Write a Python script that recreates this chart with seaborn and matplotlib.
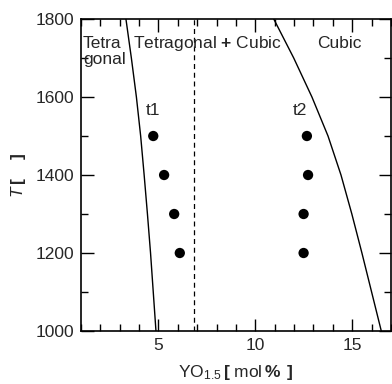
import matplotlib
matplotlib.use("Agg")
import matplotlib.pyplot as plt
import seaborn as sns
import pandas as pd
from matplotlib.ticker import MultipleLocator

sns.set_style("ticks")
plt.rcParams['font.family'] = ['Liberation Sans', 'DejaVu Sans']
plt.rcParams['mathtext.fontset'] = 'custom'
plt.rcParams['mathtext.rm'] = 'Liberation Sans'
plt.rcParams['mathtext.it'] = 'Liberation Sans:italic'
plt.rcParams['mathtext.bf'] = 'Liberation Sans:bold'

# phase boundaries (T vs YO1.5 mol%)
left_T = [1000, 1100, 1200, 1300, 1400, 1500, 1600, 1700, 1800]
left_x = [4.87, 4.73, 4.59, 4.43, 4.26, 4.08, 3.86, 3.60, 3.32]
right_T = [1000, 1100, 1200, 1300, 1400, 1500, 1600, 1700, 1800]
right_x = [16.5, 16.0, 15.5, 14.98, 14.42, 13.75, 12.92, 11.98, 10.95]
dash_x = 6.85

# measured points
t1_x = [4.73, 5.29, 5.81, 6.1]
t1_T = [1500, 1400, 1300, 1200]
t2_x = [12.66, 12.72, 12.49, 12.49]
t2_T = [1500, 1400, 1300, 1200]

pts = pd.DataFrame({'x': t1_x + t2_x, 'T': t1_T + t2_T})

fig = plt.figure(figsize=(3.92, 3.84), dpi=100)
ax = fig.add_axes([0.2066, 0.138, 0.7908, 0.8125])

sns.lineplot(x=left_x, y=left_T, orient='y', sort=False, estimator=None, color='black', lw=1.0, ax=ax)
sns.lineplot(x=right_x, y=right_T, orient='y', sort=False, estimator=None, color='black', lw=1.0, ax=ax)
ax.axvline(dash_x, color='black', ls=(0, (4, 3)), lw=0.9)
sns.scatterplot(data=pts, x='x', y='T', color='black', s=55, edgecolor='none', ax=ax, zorder=3)

fs = 12.5
ax.text(1.1, 1726, "Tetra", fontsize=fs, va='baseline')
ax.text(1.1, 1684, "gonal", fontsize=fs, va='baseline')
ax.text(3.68, 1726, r"Tetragonal $\mathbf{+}$ Cubic", fontsize=fs, va='baseline')
ax.text(13.2, 1726, "Cubic", fontsize=fs, va='baseline')
ax.text(4.35, 1554, "t1", fontsize=fs, va='baseline')
ax.text(11.93, 1554, "t2", fontsize=fs, va='baseline')

ax.set_xlim(1, 17)
ax.set_ylim(1000, 1800)
ax.xaxis.set_major_locator(MultipleLocator(5))
ax.xaxis.set_minor_locator(MultipleLocator(1))
ax.yaxis.set_major_locator(MultipleLocator(200))
ax.yaxis.set_minor_locator(MultipleLocator(100))
ax.tick_params(which='both', direction='in', top=True, right=True, labelsize=fs, width=1.0, color='black', pad=5)
ax.tick_params(which='major', length=9)
ax.tick_params(which='minor', length=5)
for s in ax.spines.values():
    s.set_linewidth(1.2)
    s.set_color('black')

ax.set_xlabel(r"YO$_{1.5}$$\,\mathbf{[}$ mol$\,\mathbf{\%}$ $\,\mathbf{]}$", fontsize=fs, labelpad=7)
ax.set_ylabel(r"$\mathit{T}\,\mathbf{[}\quad\ \mathbf{]}$", fontsize=fs, labelpad=5)

fig.savefig("out.png", dpi=100)
